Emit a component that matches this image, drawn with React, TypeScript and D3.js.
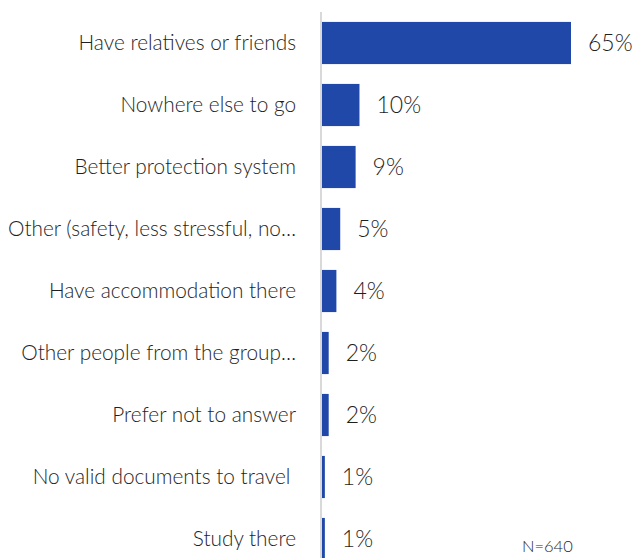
import React from "react";
import * as d3 from "d3";

const categories = [
  "Have relatives or friends",
  "Nowhere else to go",
  "Better protection system",
  "Other (safety, less stressful, no…",
  "Have accommodation there",
  "Other people from the group…",
  "Prefer not to answer",
  "No valid documents to travel\u00a0",
  "Study there",
];
const values = [65, 10, 9, 5, 4, 2, 2, 1, 1];
const valueLabels = ["65%", "10%", "9%", "5%", "4%", "2%", "2%", "1%", "1%"];
const note = "N=640";

const W = 636;
const H = 558;
const axisX = 321;

export default function App() {
  const x = d3.scaleLinear().domain([0, 65]).range([axisX, 571]);
  const y = d3
    .scaleBand<string>()
    .domain(categories)
    .range([12, 12 + 62 * categories.length])
    .paddingInner(0.32)
    .paddingOuter(0.16);
  const font = "Lato, 'Open Sans', sans-serif";
  return (
    <svg
      width={W}
      height={H}
      style={{ position: "absolute", left: 0, top: 0, background: "#fff" }}
    >
      {categories.map((c, i) => {
        const yy = y(c)!;
        const cy = yy + y.bandwidth() / 2;
        return (
          <g key={c}>
            <rect
              x={x(0)}
              y={yy}
              width={x(values[i]) - x(0)}
              height={y.bandwidth()}
              fill="#1f48a8"
            />
            <text
              x={296}
              y={cy}
              dy="0.35em"
              textAnchor="end"
              fontFamily={font}
              fontWeight={300}
              fontSize={20.8}
              fill="#1f1f1f"
              style={{ whiteSpace: "pre" }}
            >
              {c}
            </text>
            <text
              x={x(values[i]) + 17}
              y={cy}
              dy="0.35em"
              textAnchor="start"
              fontFamily={font}
              fontWeight={300}
              fontSize={23}
              fill="#1f1f1f"
            >
              {valueLabels[i]}
            </text>
          </g>
        );
      })}
      <line x1={axisX} x2={axisX} y1={12} y2={H} stroke="#d9d9d9" strokeWidth={2} />
      <text
        x={522}
        y={552}
        fontFamily={font}
        fontWeight={300}
        fontSize={16.5}
        fill="#1f1f1f"
      >
        {note}
      </text>
    </svg>
  );
}
